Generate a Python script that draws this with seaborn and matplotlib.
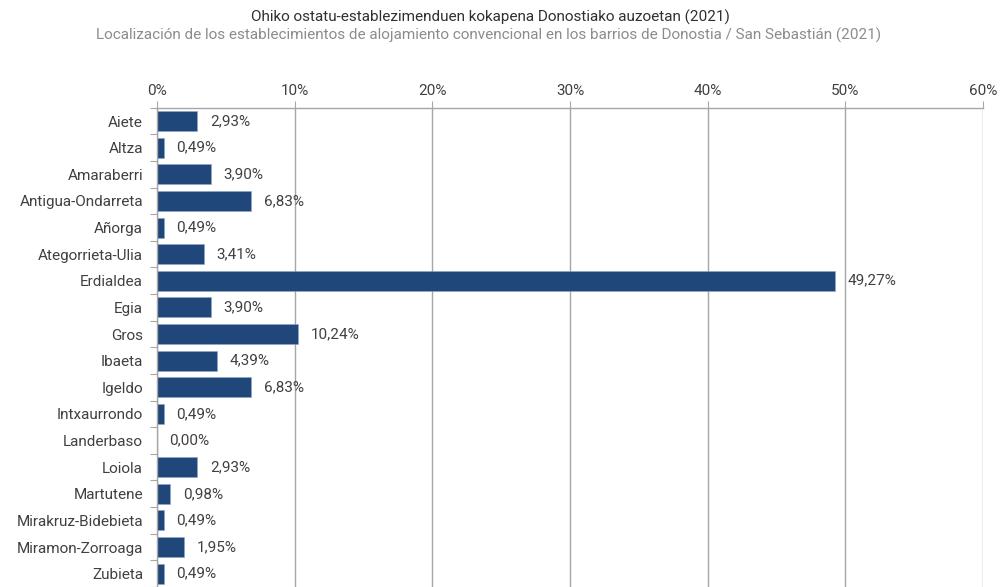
import matplotlib
matplotlib.use("Agg")
import matplotlib.pyplot as plt
import seaborn as sns
import pandas as pd
import numpy as np

auzoak = ["Aiete", "Altza", "Amaraberri", "Antigua-Ondarreta", "Añorga",
          "Ategorrieta-Ulia", "Erdialdea", "Egia", "Gros", "Ibaeta", "Igeldo",
          "Intxaurrondo", "Landerbaso", "Loiola", "Martutene",
          "Mirakruz-Bidebieta", "Miramon-Zorroaga", "Zubieta"]
portzentaiak = [2.93, 0.49, 3.90, 6.83, 0.49, 3.41, 49.27, 3.90, 10.24, 4.39,
                6.83, 0.49, 0.00, 2.93, 0.98, 0.49, 1.95, 0.49]
x_ticks = [0, 10, 20, 30, 40, 50, 60]
x_tick_labels = ["0%", "10%", "20%", "30%", "40%", "50%", "60%"]

title_eu = "Ohiko ostatu-establezimenduen kokapena Donostiako auzoetan (2021)"
title_es = ("Localización de los establecimientos de alojamiento convencional "
            "en los barrios de Donostia / San Sebastián (2021)")

df = pd.DataFrame({"auzoa": auzoak, "pct": portzentaiak})

sns.set_theme(style="white")
plt.rcParams["font.family"] = ["Roboto", "DejaVu Sans"]

bar_color = "#1F4779"
grid_color = "#A6A6A6"
text_color = "#404040"
fs = 11

fig = plt.figure(figsize=(10, 5.87), dpi=100)
ax = fig.add_axes([0.157, 0.0, 0.826, 0.8165])

sns.barplot(data=df, x="pct", y="auzoa", orient="h", color=bar_color,
            width=0.75, saturation=1, ax=ax, edgecolor="#8FA6C4", linewidth=0.4)

ax.set_xlim(0, 60)
ax.set_ylim(len(auzoak) - 0.5, -0.5)
ax.set_xticks(x_ticks)
ax.set_xticklabels(x_tick_labels, fontsize=fs, color=text_color)
ax.xaxis.tick_top()
ax.tick_params(axis="x", which="major", length=5, width=0.8, color=grid_color,
               pad=2, top=True, bottom=False, direction="out")
ax.set_xlabel("")
ax.set_ylabel("")

# category labels without ticks; small separators between categories
ax.tick_params(axis="y", which="major", length=0, pad=10, labelsize=fs,
               labelcolor=text_color)
ax.set_yticks(np.arange(len(auzoak) + 1) - 0.5, minor=True)
ax.tick_params(axis="y", which="minor", length=5, width=0.8, color=grid_color,
               left=True, direction="out")

ax.grid(axis="x", color=grid_color, linewidth=1)
ax.set_axisbelow(True)
for side in ["right", "bottom"]:
    ax.spines[side].set_visible(False)
for side in ["top", "left"]:
    ax.spines[side].set_color(grid_color)
    ax.spines[side].set_linewidth(1)

for i, v in enumerate(portzentaiak):
    ax.annotate(f"{v:.2f}".replace(".", ",") + "%", xy=(v, i),
                xytext=(9, 0), textcoords="offset points",
                va="center", ha="left", fontsize=fs, color=text_color)

fig.text(0.49, 0.971, title_eu, ha="center", va="center", fontsize=fs,
         color="#303030")
fig.text(0.489, 0.939, title_es, ha="center", va="center", fontsize=fs,
         color="#8C8C8C")

fig.savefig("out.png", dpi=100)
